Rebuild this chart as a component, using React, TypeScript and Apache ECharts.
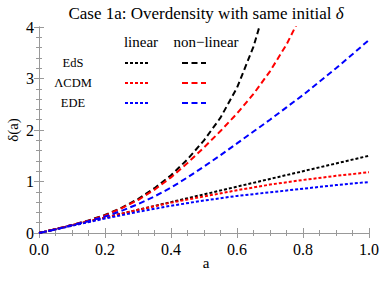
import React, { useEffect, useRef } from "react";
import * as echarts from "echarts";

const aLin = [0, 0.1, 0.2, 0.3, 0.4, 0.5, 0.6, 0.7, 0.8, 0.9, 1.0];
const linEdS = [0, 0.15, 0.3, 0.45, 0.6, 0.75, 0.9, 1.05, 1.2, 1.35, 1.5];
const linLCDM = [0, 0.15, 0.3, 0.45, 0.59, 0.71, 0.83, 0.94, 1.03, 1.11, 1.18];
const linEDE = [0, 0.14, 0.28, 0.41, 0.53, 0.63, 0.72, 0.79, 0.86, 0.93, 0.99];

const aNL = [0, 0.05, 0.1, 0.15, 0.2, 0.25, 0.3, 0.35, 0.4, 0.45, 0.5, 0.55, 0.6, 0.65, 0.7, 0.75, 0.8, 0.85, 0.9, 0.95, 1.0];
const nlEdS = [0, 0.075, 0.155, 0.245, 0.35, 0.49, 0.66, 0.87, 1.12, 1.43, 1.8, 2.24, 2.82, 3.62, 4.7];
const nlLCDM = [0, 0.075, 0.155, 0.24, 0.34, 0.48, 0.64, 0.84, 1.08, 1.36, 1.66, 1.98, 2.32, 2.7, 3.14, 3.66, 4.3];
const nlEDE = [0, 0.07, 0.15, 0.23, 0.32, 0.43, 0.56, 0.71, 0.88, 1.08, 1.29, 1.51, 1.74, 1.97, 2.2, 2.44, 2.68, 2.94, 3.2, 3.47, 3.75];

const legendRows = ["EdS", "ΛCDM", "EDE"];
const colors = ["#000000", "#ff0000", "#0000ff"];

const FONT = "'Liberation Serif', serif";
const DOT: number[] = [3, 2];
const DASH: number[] = [6, 3.5];

export default function App() {
  const ref = useRef<HTMLDivElement>(null);
  useEffect(() => {
    if (!ref.current) return;
    const chart = echarts.init(ref.current, null, { renderer: "svg" });
    const pair = (xs: number[], ys: number[]) => ys.map((y, i) => [xs[i], y]);
    const frameColor = "#999999";
    const xTick = {
      min: 0, max: 1, interval: 0.2, type: "value" as const,
      axisLine: { show: true, lineStyle: { color: frameColor, width: 1 } },
      axisTick: { show: true, inside: true, length: 5, lineStyle: { color: frameColor } },
      minorTick: { show: true, splitNumber: 4, length: 3, lineStyle: { color: frameColor } },
      splitLine: { show: false },
    };
    const yTick = {
      min: 0, max: 4, interval: 1, type: "value" as const,
      axisLine: { show: true, lineStyle: { color: frameColor, width: 1 } },
      axisTick: { show: true, inside: true, length: 5, lineStyle: { color: frameColor } },
      minorTick: { show: true, splitNumber: 5, length: 3, lineStyle: { color: frameColor } },
      splitLine: { show: false },
    };
    const linSeries = [linEdS, linLCDM, linEDE].map((d, i) => ({
      type: "line", data: pair(aLin, d), showSymbol: false, symbol: "none",
      lineStyle: { color: colors[i], width: 2, type: DOT }, clip: true, z: 2,
    }));
    const nlSeries = [nlEdS, nlLCDM, nlEDE].map((d, i) => ({
      type: "line", data: pair(aNL, d), showSymbol: false, symbol: "none",
      lineStyle: { color: colors[i], width: 2, type: DASH }, clip: true, z: 3,
    }));

    const graphics: any[] = [
      {
        type: "text", x: 206, y: 13,
        style: {
          text: "Case 1a: Overdensity with same initial {i|δ}",
          font: `17px ${FONT}`, fill: "#000", align: "center", verticalAlign: "middle",
          rich: { i: { font: `italic 17px ${FONT}`, fill: "#000" } },
        },
      },
      { type: "text", x: 141, y: 42, style: { text: "linear", font: `15px ${FONT}`, fill: "#000", align: "center", verticalAlign: "middle" } },
      { type: "text", x: 206, y: 42, style: { text: "non\u2212linear", font: `15px ${FONT}`, fill: "#000", align: "center", verticalAlign: "middle" } },
      { type: "text", x: 13, y: 130, rotation: Math.PI / 2, style: { text: "δ(a)", font: `15px ${FONT}`, fill: "#000", align: "center", verticalAlign: "middle" } },
      { type: "text", x: 206, y: 263, style: { text: "a", font: `15px ${FONT}`, fill: "#000", align: "center", verticalAlign: "middle" } },
    ];
    legendRows.forEach((name, i) => {
      const y = 63 + i * 20;
      graphics.push({ type: "text", x: 73, y, style: { text: name, font: `12.5px ${FONT}`, fill: "#000", align: "center", verticalAlign: "middle" } });
      graphics.push({ type: "line", shape: { x1: 125, y1: y, x2: 150, y2: y }, style: { stroke: colors[i], lineWidth: 2, lineDash: DOT } });
      graphics.push({ type: "line", shape: { x1: 182, y1: y, x2: 206, y2: y }, style: { stroke: colors[i], lineWidth: 2, lineDash: DASH } });
    });

    chart.setOption({
      animation: false,
      backgroundColor: "#ffffff",
      grid: { left: 39, right: 9, top: 27, bottom: 48, containLabel: false },
      xAxis: [
        {
          ...xTick, position: "bottom",
          axisLabel: {
            show: true, margin: 8, fontSize: 16, fontFamily: "serif", color: "#000",
            formatter: (v: number) => v.toFixed(1),
          },
        },
        { ...xTick, position: "top", axisLabel: { show: false } },
      ],
      yAxis: [
        {
          ...yTick, position: "left",
          axisLabel: { show: true, margin: 5, fontSize: 16, fontFamily: "serif", color: "#000" },
        },
        { ...yTick, position: "right", axisLabel: { show: false } },
      ],
      series: [...linSeries, ...nlSeries],
      graphic: graphics,
    });
    return () => chart.dispose();
  }, []);
  return <div ref={ref} style={{ width: 382, height: 281, position: "absolute", left: 0, top: 0 }} />;
}
